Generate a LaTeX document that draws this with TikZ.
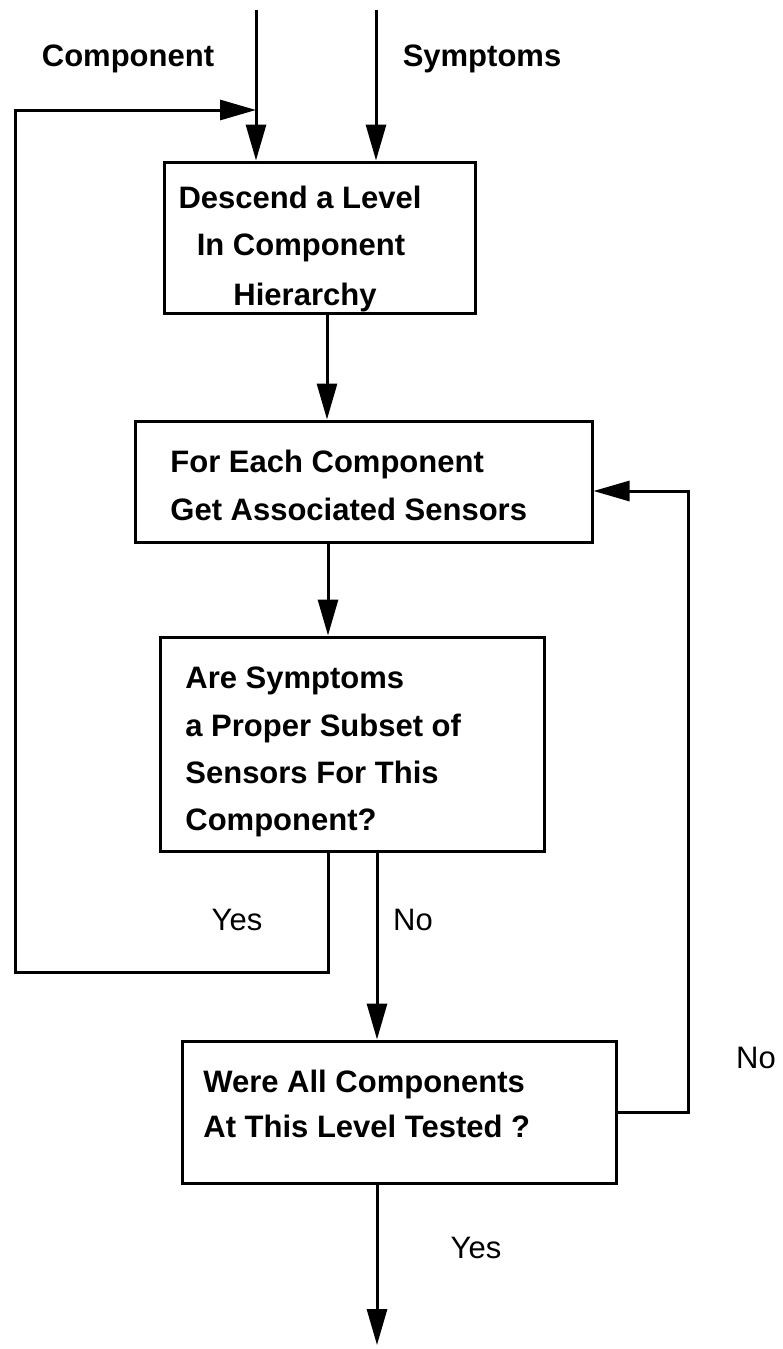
\documentclass[tikz,border=0pt]{standalone}
\usepackage{fontspec}
\setmainfont{Liberation Sans}
\usetikzlibrary{arrows.meta}
\tikzset{
  box/.style={draw, line width=1.5pt, rectangle, inner sep=0pt},
  arr/.style={line width=1.5pt, -{Triangle[length=18pt,width=10pt]}},
  btxt/.style={inner sep=0pt, font=\fontsize{15.5}{24}\selectfont\bfseries},
  rtxt/.style={inner sep=0pt, font=\fontsize{15.5}{24}\selectfont}
}
\begin{document}
\begin{tikzpicture}[x=0.5pt,y=-0.5pt]
\useasboundingbox (0,0) rectangle (782,1349);
% boxes
\node[box, minimum width=155.5pt, minimum height=75.5pt] (b1) at (319.5,237.5) {};
\node[box, minimum width=228.5pt, minimum height=60.5pt] (b2) at (363.5,481.5) {};
\node[box, minimum width=192pt, minimum height=107pt] (b3) at (352,744) {};
\node[box, minimum width=217pt, minimum height=71pt] (b4) at (399,1112) {};
% box texts
\node[btxt, anchor=base] (t11) at (300,208) {Descend a Level};
\node[btxt, anchor=base] (t12) at (301,255) {In Component};
\node[btxt, anchor=base] (t13) at (305,305) {Hierarchy};
\node[btxt, anchor=base west] (t21) at (170,472) {For Each Component};
\node[btxt, anchor=base west] (t22) at (170,520) {Get Associated Sensors};
\node[btxt, anchor=base west] (t31) at (185,688) {Are Symptoms};
\node[btxt, anchor=base west] (t32) at (185,736) {a Proper Subset of};
\node[btxt, anchor=base west] (t33) at (185,783) {Sensors For This};
\node[btxt, anchor=base west] (t34) at (185,830) {Component?};
\node[btxt, anchor=base west] (t41) at (203,1092) {Were All Components};
\node[btxt, anchor=base west] (t42) at (203,1137) {At This Level Tested ?};
% input labels
\node[btxt, anchor=base] (lc) at (128,66) {Component};
\node[btxt, anchor=base] (ls) at (482,66) {Symptoms};
% branch labels
\node[rtxt] (ly1) at (237,920) {Yes};
\node[rtxt] (ln1) at (413,920) {No};
\node[rtxt] (ly2) at (476,1248) {Yes};
\node[rtxt] (ln2) at (756,1058) {No};
% coordinates
\coordinate (cin) at (256,10);
\coordinate (sin) at (376,10);
\coordinate (x1) at (327,0);
\coordinate (x2) at (328,0);
\coordinate (x3) at (377,0);
\coordinate (yl) at (15,972);
\coordinate (yt) at (15,110);
\coordinate (nr) at (688,491);
\coordinate (out) at (377,1345);
% connectors
\draw[arr] (cin) -- (cin |- b1.north);
\draw[arr] (sin) -- (sin |- b1.north);
\draw[arr] (b1.south -| x1) -- (b2.north -| x1);
\draw[arr] (b2.south -| x2) -- (b3.north -| x2);
\draw[arr] (b3.south -| x3) -- (b4.north -| x3);
\draw[arr] (b4.south -| out) -- (out);
\draw[arr] (b3.south -| x2) |- (yl) -- (yt) -- (yt -| cin);
\draw[arr] (b4.east) -- (b4.east -| nr) -- (nr) -- (nr -| b2.east);
\end{tikzpicture}
\end{document}
